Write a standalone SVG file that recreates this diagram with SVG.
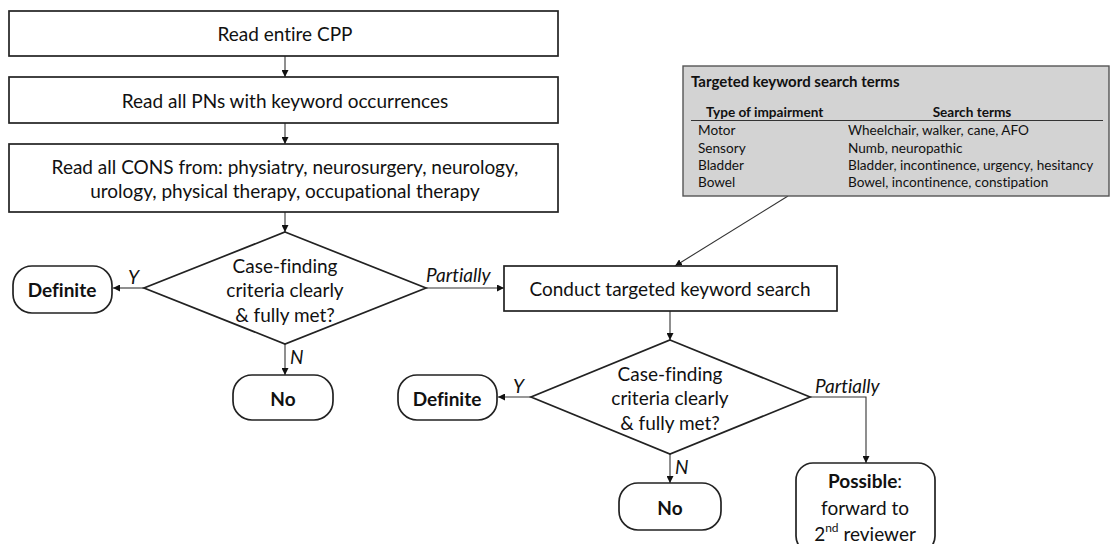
<svg xmlns="http://www.w3.org/2000/svg" width="1116" height="544" viewBox="0 0 1116 544">
<style>
text{font-variant-ligatures:none}
.box{fill:#fff;stroke:#222;stroke-width:1.7}
.term{fill:#fff;stroke:#222;stroke-width:1.7}
.t{font-family:Lato,"Liberation Sans",sans-serif;font-size:19px;fill:#111;text-anchor:middle;dominant-baseline:central}
.b{font-weight:bold}
.lbl{font-family:Lato,"Liberation Sans",sans-serif;font-size:19px;font-style:italic;fill:#111}
.c{fill:none;stroke:#333;stroke-width:1.1}
.tb{font-family:Lato,"Liberation Sans",sans-serif;font-size:13.6px;fill:#111;dominant-baseline:central}
.ttl{font-size:15px}
.sup{font-size:12px}
</style>
<defs>
<marker id="ah" viewBox="0 0 10 10" refX="10" refY="5" markerWidth="7" markerHeight="7" markerUnits="userSpaceOnUse" orient="auto">
<path d="M0,0 L10,5 L0,10 z" fill="#111"/>
</marker>
</defs>
<g id="connectors">
<line class="c" x1="285" y1="56" x2="285" y2="77" marker-end="url(#ah)"/>
<line class="c" x1="285" y1="123" x2="285" y2="144" marker-end="url(#ah)"/>
<line class="c" x1="285" y1="212" x2="285" y2="232" marker-end="url(#ah)"/>
<line class="c" x1="144" y1="288" x2="113" y2="288" marker-end="url(#ah)"/>
<line class="c" x1="285" y1="344" x2="285" y2="375" marker-end="url(#ah)"/>
<line class="c" x1="426" y1="288" x2="504" y2="288" marker-end="url(#ah)"/>
<line class="c" x1="788" y1="196" x2="675" y2="266" marker-end="url(#ah)"/>
<line class="c" x1="670" y1="311" x2="670" y2="340" marker-end="url(#ah)"/>
<line class="c" x1="531" y1="397" x2="498" y2="397" marker-end="url(#ah)"/>
<line class="c" x1="670" y1="454" x2="670" y2="483" marker-end="url(#ah)"/>
<polyline class="c" points="810,397 866,397 866,463" marker-end="url(#ah)"/>
<text class="lbl" x="128" y="284">Y</text>
<text class="lbl" x="290" y="364">N</text>
<text class="lbl" x="426" y="282">Partially</text>
<text class="lbl" x="513" y="393">Y</text>
<text class="lbl" x="675" y="474">N</text>
<text class="lbl" x="815" y="393">Partially</text>
</g>
<g id="read-cpp">
<rect class="box" x="9" y="11" width="549" height="45"/>
<text class="t" x="285" y="33.5">Read entire CPP</text>
</g>
<g id="read-pns">
<rect class="box" x="9" y="77" width="549" height="46"/>
<text class="t" x="285" y="100">Read all PNs with keyword occurrences</text>
</g>
<g id="read-cons">
<rect class="box" x="9" y="144" width="549" height="68"/>
<text class="t" x="285" y="166">Read all CONS from: physiatry, neurosurgery, neurology,</text>
<text class="t" x="285" y="190">urology, physical therapy, occupational therapy</text>
</g>
<g id="decision1">
<polygon class="box" points="285,232 426,288 285,344 144,288"/>
<text class="t" x="285" y="265">Case-finding</text>
<text class="t" x="285" y="289">criteria clearly</text>
<text class="t" x="285" y="314">&amp; fully met?</text>
</g>
<g id="definite1">
<rect class="term" x="13" y="266" width="99" height="47" rx="19"/>
<text class="t b" x="62" y="289">Definite</text>
</g>
<g id="no1">
<rect class="term" x="233" y="375" width="100" height="45" rx="19"/>
<text class="t b" x="283" y="398">No</text>
</g>
<g id="conduct">
<rect class="box" x="504" y="266" width="333" height="45"/>
<text class="t" x="670" y="288">Conduct targeted keyword search</text>
</g>
<g id="decision2">
<polygon class="box" points="670,340 810,397 670,454 531,397"/>
<text class="t" x="670" y="373">Case-finding</text>
<text class="t" x="670" y="397">criteria clearly</text>
<text class="t" x="670" y="422">&amp; fully met?</text>
</g>
<g id="definite2">
<rect class="term" x="398" y="375" width="99" height="45" rx="19"/>
<text class="t b" x="447" y="398">Definite</text>
</g>
<g id="no2">
<rect class="term" x="619" y="483" width="102" height="47" rx="19"/>
<text class="t b" x="670" y="507">No</text>
</g>
<g id="possible">
<rect class="term" x="796" y="463" width="139" height="90" rx="17"/>
<text class="t" x="865" y="480"><tspan class="b">Possible</tspan>:</text>
<text class="t" x="865" y="507">forward to</text>
<text class="t" x="865" y="533">2<tspan class="sup" dy="-6">nd</tspan><tspan dy="6"> reviewer</tspan></text>
</g>
<g id="keyword-table">
<rect x="683" y="66" width="426" height="130" fill="#d3d3d3" stroke="#555" stroke-width="1.4"/>
<text class="tb b ttl" x="691" y="81">Targeted keyword search terms</text>
<text class="tb b" x="706" y="112">Type of impairment</text>
<text class="tb b" x="972" y="112" text-anchor="middle">Search terms</text>
<line x1="691" y1="120.5" x2="1103" y2="120.5" stroke="#333" stroke-width="1.2"/>
<text class="tb" x="698" y="130">Motor</text>
<text class="tb" x="698" y="148">Sensory</text>
<text class="tb" x="698" y="165">Bladder</text>
<text class="tb" x="698" y="182">Bowel</text>
<text class="tb" x="848" y="130">Wheelchair, walker, cane, AFO</text>
<text class="tb" x="848" y="148">Numb, neuropathic</text>
<text class="tb" x="848" y="165">Bladder, incontinence, urgency, hesitancy</text>
<text class="tb" x="848" y="182">Bowel, incontinence, constipation</text>
</g>
</svg>
